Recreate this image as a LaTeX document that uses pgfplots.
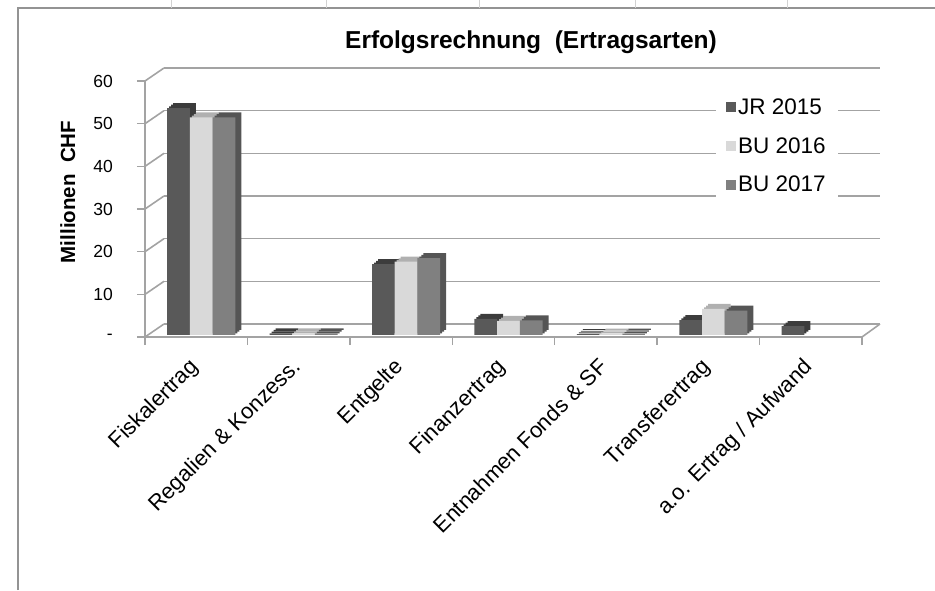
\documentclass[border=0pt]{standalone}
\usepackage{pgfplots}
\pgfplotsset{compat=1.18}
\usepackage{pgfplotstable}
\usepackage{fontspec}
\setmainfont{Liberation Sans}

\definecolor{jrF}{HTML}{595959}
\definecolor{jrS}{HTML}{3C3C3C}
\definecolor{bsF}{HTML}{D9D9D9}
\definecolor{bsS}{HTML}{B0B0B0}
\definecolor{btF}{HTML}{808080}
\definecolor{btS}{HTML}{555555}
\definecolor{gridc}{HTML}{A3A3A3}

\pgfplotstableread{
x   jr   bs   bt
0.5 53.2 51.0 51.0
1.5 0.4  0.4  0.4
2.5 16.6 17.2 18.0
3.5 3.8  3.3  3.4
4.5 0.2  0.3  0.3
5.5 3.5  6.1  5.7
6.5 2.1  nan  nan
}\data

\begin{document}
\begin{tikzpicture}[x=1pt,y=1pt]
\path[use as bounding box] (0,0) rectangle (935,590);
% spreadsheet frame
\draw[color=gray!85, line width=1.2pt] (18,0) -- (18,582) -- (935,582);
\foreach \xx in {171,326,479,635,787}
  \draw[gray!35, line width=0.8pt] (\xx,582) -- (\xx,590);

% back wall gridlines
\begin{axis}[at={(164pt,266pt)}, anchor=south west, scale only axis,
  width=716pt, height=256pt, xmin=0, xmax=7, ymin=0, ymax=60,
  axis line style={draw=none}, xtick=\empty, ytick={0,10,...,60}, yticklabels={},
  major tick length=0pt, ymajorgrids, major grid style={gridc, line width=1.6pt}]
\addplot[draw=none] coordinates {(0,0)};
\end{axis}

% side wall and floor edges
\foreach \v in {0,10,...,60}
  \draw[gridc, line width=1.6pt] (145,{253+4.2667*\v}) -- (164,{266+4.2667*\v});
\draw[gridc, line width=1.6pt] (862,253) -- (880,266);

% bars
\begin{axis}[at={(150pt,255pt)}, anchor=south west, scale only axis,
  width=717pt, height=256pt, xmin=0, xmax=7, ymin=0, ymax=60,
  hide axis, clip=false,
  legend style={at={(0.7894,0.955)}, anchor=north west, draw=none, fill=white,
    inner xsep=10pt, inner ysep=6pt, font=\fontsize{22.5}{27}\selectfont,
    row sep=17.5pt, /tikz/every even column/.append style={column sep=2pt}},
  legend cell align=left]
% JR 2015
\addplot[ybar, bar width=22.7pt, bar shift=-22.7pt, draw=none, fill=jrS, xshift=6pt, yshift=5pt, forget plot] table[x=x,y=jr]{\data};
\addplot[ybar, bar width=22.7pt, bar shift=-22.7pt, draw=none, fill=jrS, xshift=4pt, yshift=3.33pt, forget plot] table[x=x,y=jr]{\data};
\addplot[ybar, bar width=22.7pt, bar shift=-22.7pt, draw=none, fill=jrS, xshift=2pt, yshift=1.67pt, forget plot] table[x=x,y=jr]{\data};
\addplot[ybar, bar width=22.7pt, bar shift=-22.7pt, draw=none, fill=jrF,
  legend image code/.code={\fill[jrF] (0pt,-5pt) rectangle (10pt,5pt);}] table[x=x,y=jr]{\data};
\addlegendentry{JR 2015}
% BU 2016
\addplot[ybar, bar width=22.7pt, bar shift=0pt, draw=none, fill=bsS, xshift=6pt, yshift=5pt, forget plot] table[x=x,y=bs]{\data};
\addplot[ybar, bar width=22.7pt, bar shift=0pt, draw=none, fill=bsS, xshift=4pt, yshift=3.33pt, forget plot] table[x=x,y=bs]{\data};
\addplot[ybar, bar width=22.7pt, bar shift=0pt, draw=none, fill=bsS, xshift=2pt, yshift=1.67pt, forget plot] table[x=x,y=bs]{\data};
\addplot[ybar, bar width=22.7pt, bar shift=0pt, draw=none, fill=bsF,
  legend image code/.code={\fill[bsF] (0pt,-5pt) rectangle (10pt,5pt);}] table[x=x,y=bs]{\data};
\addlegendentry{BU 2016}
% BU 2017
\addplot[ybar, bar width=22.7pt, bar shift=22.7pt, draw=none, fill=btS, xshift=6pt, yshift=5pt, forget plot] table[x=x,y=bt]{\data};
\addplot[ybar, bar width=22.7pt, bar shift=22.7pt, draw=none, fill=btS, xshift=4pt, yshift=3.33pt, forget plot] table[x=x,y=bt]{\data};
\addplot[ybar, bar width=22.7pt, bar shift=22.7pt, draw=none, fill=btS, xshift=2pt, yshift=1.67pt, forget plot] table[x=x,y=bt]{\data};
\addplot[ybar, bar width=22.7pt, bar shift=22.7pt, draw=none, fill=btF,
  legend image code/.code={\fill[btF] (0pt,-5pt) rectangle (10pt,5pt);}] table[x=x,y=bt]{\data};
\addlegendentry{BU 2017}
\end{axis}

% front frame
\begin{axis}[at={(145pt,253pt)}, anchor=south west, scale only axis,
  width=717pt, height=256pt, xmin=0, xmax=7, ymin=0, ymax=60,
  axis lines*=left, axis line style={gridc, line width=1.6pt},
  tick align=outside, major tick length=8pt, tick style={gridc, line width=1.4pt},
  ytick={0,10,...,60}, yticklabels={-,10,20,30,40,50,60},
  yticklabel style={font=\fontsize{17.5}{20}\selectfont, anchor=east, inner sep=0pt, xshift=-24pt},
  xtick={0,1,...,7}, xticklabels={},
  extra x ticks={0.5,1.5,...,6.5},
  extra x tick labels={Fiskalertrag, Regalien \& Konzess., Entgelte, Finanzertrag, Entnahmen Fonds \& SF, Transferertrag, a.o. Ertrag / Aufwand},
  extra x tick style={major tick length=0pt,
    xticklabel style={xshift=-1pt, yshift=-27pt, rotate=45, anchor=east, inner sep=0pt,
      font=\fontsize{22}{26}\selectfont, text height=15.8pt, text depth=4.6pt}}]
\addplot[draw=none] coordinates {(0,0)};
\end{axis}

\node[anchor=base, font=\fontsize{24.5}{29}\selectfont\bfseries] at (531,541.7) {Erfolgsrechnung\ \ (Ertragsarten)};
\node[anchor=base, rotate=90, font=\fontsize{20.5}{24}\selectfont\bfseries] at (75,398) {Millionen\ \ CHF};
\end{tikzpicture}
\end{document}
